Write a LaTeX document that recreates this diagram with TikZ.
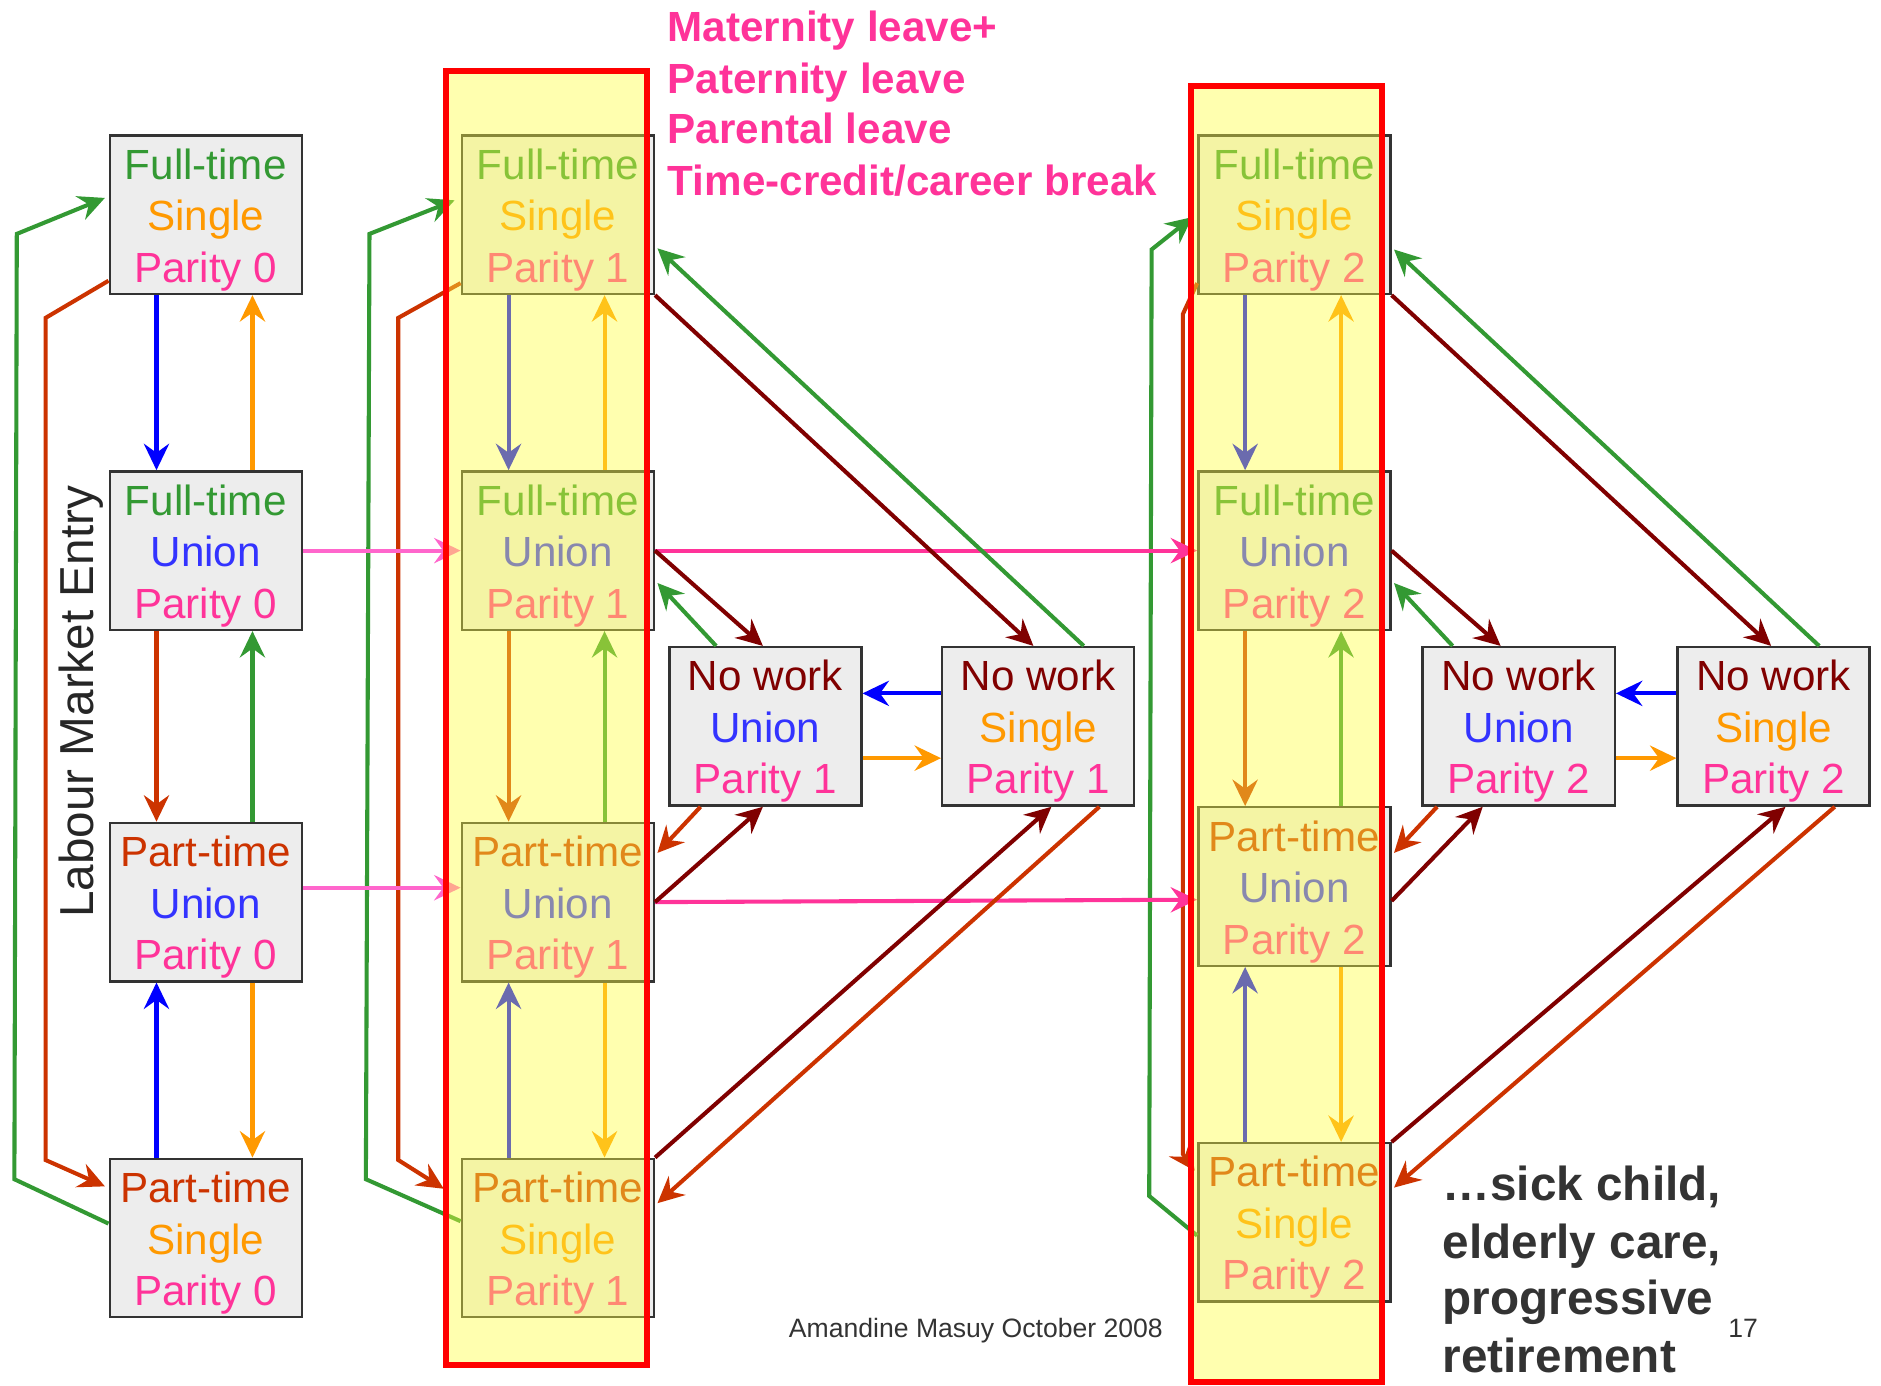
\documentclass[tikz,border=0pt]{standalone}
\usepackage{fontspec}
\setmainfont{Liberation Sans}
\usetikzlibrary{arrows.meta,calc}

\definecolor{cgreen}{HTML}{339933}
\definecolor{cred}{HTML}{CC3300}
\definecolor{cblue}{HTML}{0000FF}
\definecolor{corange}{HTML}{FF9900}
\definecolor{cdark}{HTML}{800000}
\definecolor{cpink}{HTML}{FF3399}
\definecolor{clpink}{HTML}{FF66CC}
\definecolor{cunion}{HTML}{3333FF}
\definecolor{boxfill}{HTML}{EDEDED}
\definecolor{boxline}{HTML}{333333}
\definecolor{bandfill}{HTML}{FFFF40}
\definecolor{bandline}{HTML}{FF0000}
\definecolor{txtdark}{HTML}{333333}

% state labels
\newcommand\boxstrut{\rule{0pt}{0.34cm}}
\newcommand\ftime{\textcolor{cgreen}{Full-time}}
\newcommand\ptime{\textcolor{cred}{Part-time}}
\newcommand\nowork{\textcolor{cdark}{No work}}
\newcommand\sgl{\textcolor{corange}{Single}}
\newcommand\unn{\textcolor{cunion}{Union}}
\newcommand\parity[1]{\textcolor{cpink}{Parity #1}}

\tikzset{
  box/.style={draw=boxline, fill=boxfill, line width=0.02cm,
    minimum width=1.6cm, minimum height=1.32cm, inner sep=0pt,
    align=center, font=\fontsize{10pt}{12.2pt}\selectfont},
  arr/.style={line width=0.034cm,
    -{Stealth[length=0.22cm,width=0.21cm,inset=0.075cm]}},
  band/.style={fill=bandfill, fill opacity=0.42},
  bandedge/.style={draw=bandline, line width=0.05cm},
}

\begin{document}
\begin{tikzpicture}[x=0.01cm,y=-0.01cm]
\useasboundingbox (0,0) rectangle (1568,1155);

% ---- states: parity 0
\node[box] (FS0) at (171.5,179) {\boxstrut\ftime\\\sgl\\\parity{0}};
\node[box] (FU0) at (171.5,459) {\boxstrut\ftime\\\unn\\\parity{0}};
\node[box] (PU0) at (171.5,752) {\boxstrut\ptime\\\unn\\\parity{0}};
\node[box] (PS0) at (171.5,1032) {\boxstrut\ptime\\\sgl\\\parity{0}};

% ---- states: parity 1
\node[box] (FS1) at (465,179) {\boxstrut\ftime\\\sgl\\\parity{1}};
\node[box] (FU1) at (465,459) {\boxstrut\ftime\\\unn\\\parity{1}};
\node[box] (PU1) at (465,752) {\boxstrut\ptime\\\unn\\\parity{1}};
\node[box] (PS1) at (465,1032) {\boxstrut\ptime\\\sgl\\\parity{1}};
\node[box] (NWU1) at (638,605.5) {\boxstrut\nowork\\\unn\\\parity{1}};
\node[box] (NWS1) at (865.5,605.5) {\boxstrut\nowork\\\sgl\\\parity{1}};

% ---- states: parity 2
\node[box] (FS2) at (1079,179) {\boxstrut\ftime\\\sgl\\\parity{2}};
\node[box] (FU2) at (1079,459) {\boxstrut\ftime\\\unn\\\parity{2}};
\node[box] (PU2) at (1079,739) {\boxstrut\ptime\\\unn\\\parity{2}};
\node[box] (PS2) at (1079,1019) {\boxstrut\ptime\\\sgl\\\parity{2}};
\node[box] (NWU2) at (1266,605.5) {\boxstrut\nowork\\\unn\\\parity{2}};
\node[box] (NWS2) at (1478.5,605.5) {\boxstrut\nowork\\\sgl\\\parity{2}};

% ---- vertical transitions inside each parity column
\foreach \c in {0,1,2} {
  \draw[arr,cblue]   ($(FS\c.south west)+(40,0)$)  -- ($(FU\c.north west)+(40,0)$);
  \draw[arr,corange] ($(FU\c.north west)+(120,0)$) -- ($(FS\c.south west)+(120,0)$);
  \draw[arr,cred]    ($(FU\c.south west)+(40,0)$)  -- ($(PU\c.north west)+(40,0)$);
  \draw[arr,cgreen]  ($(PU\c.north west)+(120,0)$) -- ($(FU\c.south west)+(120,0)$);
  \draw[arr,cblue]   ($(PS\c.north west)+(40,0)$)  -- ($(PU\c.south west)+(40,0)$);
  \draw[arr,corange] ($(PU\c.south west)+(120,0)$) -- ($(PS\c.north west)+(120,0)$);
}

% ---- long outer loops (part-time single <-> full-time single)
\draw[arr,cgreen] ($(PS0.west)+(0,-12)$) -- (12,983) -- (14,195) -- ($(FS0.west)+(-3,-14)$);
\draw[arr,cred]   ($(FS0.south west)+(0,-12)$) -- (38,265) -- (38,967) -- ($(PS0.north west)+(-3,24)$);
\draw[arr,cgreen] ($(PS1.west)+(0,-14)$) -- (305,983) -- (308,195) -- ($(FS1.west)+(-5,-12)$);
\draw[arr,cred]   ($(FS1.south west)+(0,-10)$) -- (332,265) -- (332,967) -- ($(PS1.north west)+(-14,26)$);
\draw[arr,cgreen] ($(PS2.west)+(0,11)$) -- (958,997) -- (960,208) -- ($(FS2.west)+(-4,2)$);
\draw[arr,cred]   ($(FS2.south west)+(0,-10)$) -- (986,262) -- (986,962) -- ($(PS2.north west)+(-2,24)$);

% ---- births: parity 0 -> 1 -> 2
\draw[arr,clpink] (FU0.east) -- (FU1.west);
\draw[arr,clpink] ($(PU0.east)+(0,-12)$) -- ($(PU1.west)+(0,-12)$);
\draw[arr,cpink] (FU1.east) -- (FU2.west);
\draw[arr,cpink] (PU1.east) -- ($(PU2.west)+(0,11)$);

% ---- transitions to and from no work, parity 1
\draw[arr,cdark]  (FS1.south east) -- ($(NWS1.north west)+(77,0)$);
\draw[arr,cgreen] ($(NWS1.north west)+(119,0)$) -- ($(FS1.east)+(2,28)$);
\draw[arr,cdark]  (FU1.east) -- ($(NWU1.north west)+(79,0)$);
\draw[arr,cgreen] ($(NWU1.north west)+(40,0)$) -- ($(FU1.east)+(2,27)$);
\draw[arr,cred]   ($(NWU1.south west)+(27,0)$) -- ($(PU1.east)+(2,-41)$);
\draw[arr,cdark]  (PU1.east) -- ($(NWU1.south west)+(79,0)$);
\draw[arr,cdark]  (PS1.north east) -- ($(NWS1.south west)+(92,0)$);
\draw[arr,cred]   ($(NWS1.south west)+(132,0)$) -- ($(PS1.east)+(2,-29)$);
\draw[arr,cblue]   ($(NWS1.west)+(0,-27.5)$) -- ($(NWU1.east)+(0,-27.5)$);
\draw[arr,corange] ($(NWU1.east)+(0,26.5)$) -- ($(NWS1.west)+(0,26.5)$);

% ---- transitions to and from no work, parity 2
\draw[arr,cdark]  (FS2.south east) -- ($(NWS2.north west)+(79,0)$);
\draw[arr,cgreen] ($(NWS2.north west)+(119,0)$) -- ($(FS2.east)+(2,29)$);
\draw[arr,cdark]  (FU2.east) -- ($(NWU2.north west)+(66,0)$);
\draw[arr,cgreen] ($(NWU2.north west)+(26,0)$) -- ($(FU2.east)+(2,27)$);
\draw[arr,cred]   ($(NWU2.south west)+(13,0)$) -- ($(PU2.east)+(2,-28)$);
\draw[arr,cdark]  ($(PU2.east)+(0,12)$) -- ($(NWU2.south west)+(51,0)$);
\draw[arr,cdark]  (PS2.north east) -- ($(NWS2.south west)+(91,0)$);
\draw[arr,cred]   ($(NWS2.south west)+(132,0)$) -- ($(PS2.east)+(2,-29)$);
\draw[arr,cblue]   ($(NWS2.west)+(0,-27.5)$) -- ($(NWU2.east)+(0,-27.5)$);
\draw[arr,corange] ($(NWU2.east)+(0,26.5)$) -- ($(NWS2.west)+(0,26.5)$);

% ---- highlighted leave periods
\fill[band] (372,59) rectangle (539,1138);
\draw[bandedge] (372,59) rectangle (539,1138);
\fill[band] (993,72) rectangle (1152,1152);
\draw[bandedge] (993,72) rectangle (1152,1152);

% ---- annotations
\node[rotate=90, font=\fontsize{11.3pt}{13pt}\selectfont, text=black!85] (entry) at (68,585) {Labour Market Entry};

\begin{scope}[every node/.style={anchor=base west, inner sep=0pt, text=cpink,
    font=\fontsize{10pt}{12pt}\selectfont\bfseries}]
  \node (leave1) at (556,35) {Maternity leave+};
  \node (leave2) at (556,78) {Paternity leave};
  \node (leave3) at (556,120) {Parental leave};
  \node (leave4) at (556,163) {Time-credit/career break};
\end{scope}

\begin{scope}[every node/.style={anchor=base west, inner sep=0pt, text=txtdark,
    font=\fontsize{11.3pt}{13pt}\selectfont\bfseries}]
  \node (care1) at (1202,1001) {…sick child,};
  \node (care2) at (1202,1049) {elderly care,};
  \node (care3) at (1202,1096) {progressive};
  \node (care4) at (1202,1144) {retirement};
\end{scope}

\node[anchor=base west, inner sep=0pt, text=txtdark, font=\fontsize{6.3pt}{7pt}\selectfont] (author) at (657,1115) {Amandine Masuy October 2008};
\node[anchor=base west, inner sep=0pt, text=txtdark, font=\fontsize{6.3pt}{7pt}\selectfont] (page) at (1440,1115) {17};
\end{tikzpicture}
\end{document}
